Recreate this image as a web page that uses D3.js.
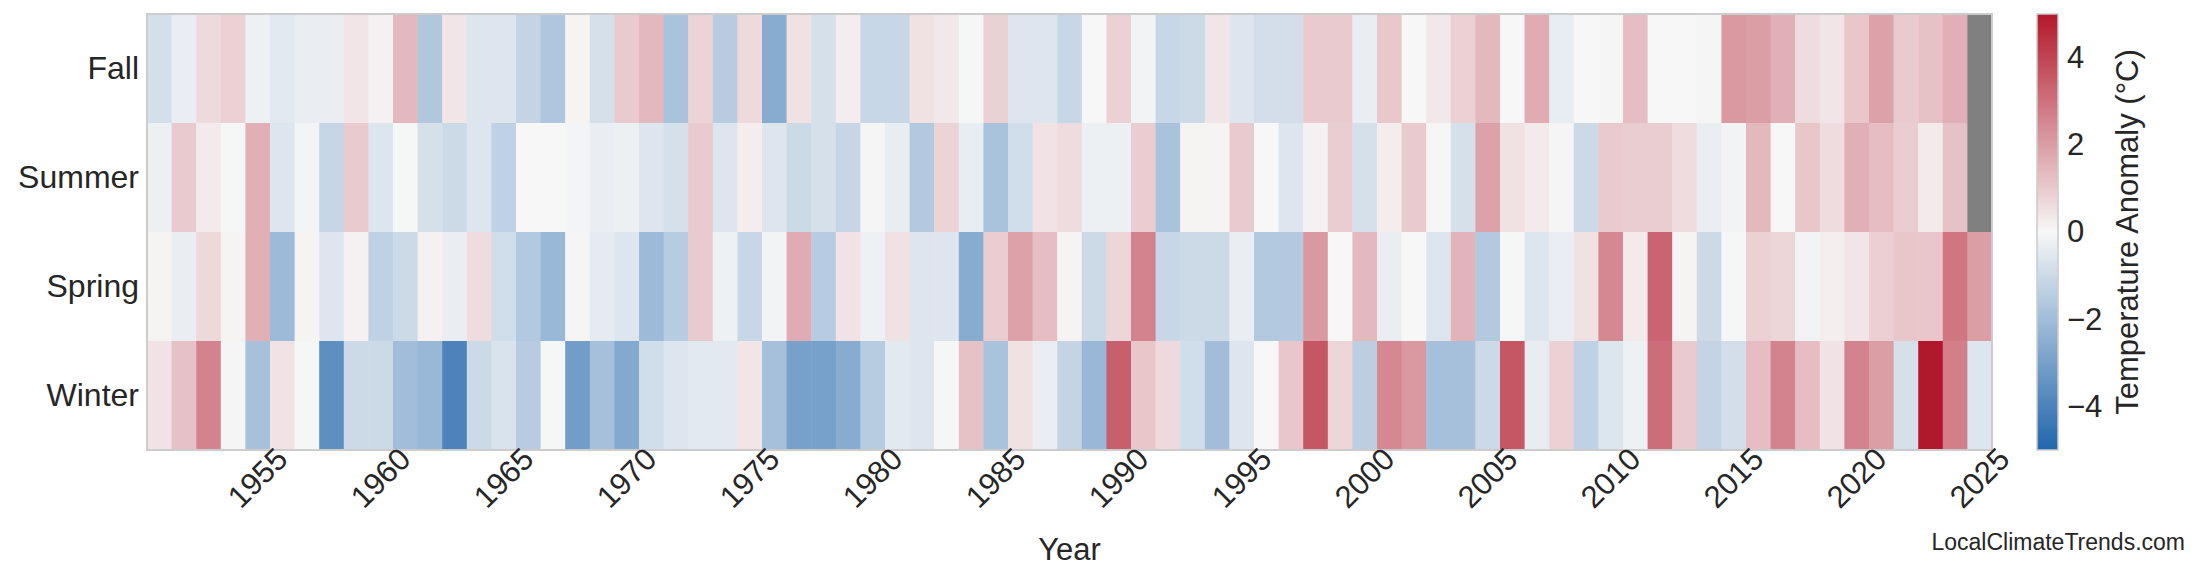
<!DOCTYPE html>
<html><head><meta charset="utf-8">
<script src="https://cdn.jsdelivr.net/npm/d3@7"></script>
<style>body{margin:0;background:#fff}text{font-family:"Liberation Sans",Arial,sans-serif;fill:#262626}</style>
</head><body><svg id="c" width="2200" height="585"></svg>
<script>
const years = d3.range(1951, 2026);
const seasons = ["Fall","Summer","Spring","Winter"];
const fall = [-0.84,-0.3,0.66,0.86,-0.2,-0.5,-0.3,-0.3,0.4,0.15,1.4,-1.65,0.4,-0.6,-0.6,-1.2,-1.7,0.1,-0.8,
1.0,1.4,-1.8,0.8,-1.5,0.66,-2.6,0.5,-0.8,0.25,-1.1,-1.1,0.5,0.35,-0.05,0.85,-0.6,-0.6,-1.1,
0,0.85,-0.15,-1.1,-1.0,0.4,-0.6,-0.85,-0.85,1.0,1.0,-0.3,1.05,0,0.35,0.85,1.4,0,1.7,
-0.35,0,0.05,1.3,0,0,0.05,2.1,2.0,1.6,0.6,0.4,1.1,1.9,1.0,1.2,1.6,null];
const summer = [-0.25,1.0,0.3,-0.05,1.6,-0.6,-0.1,-1.15,1.0,-0.6,-0.05,-0.8,-1.0,-0.6,-1.3,0,0,-0.1,-0.3,
-0.25,-0.6,-0.8,1.0,-0.6,0.25,-0.6,-1.0,-0.8,-1.15,0.05,-0.35,-1.6,0.8,-0.35,-1.8,-0.9,0.45,0.6,
-0.25,-0.25,0.95,-1.8,0.1,0.1,1.0,0,-0.6,0.15,0.95,-0.8,0.25,1.0,-0.02,-0.8,1.9,0.5,0.3,
0.05,-1.0,1.0,0.95,0.95,0.6,-0.3,-0.15,1.4,0,1.1,0.6,1.6,1.3,0.95,0.3,1.2,null];
const spring = [0.1,-0.3,0.7,0.1,1.6,-2.1,0.1,-0.6,0.15,-1.3,-1.0,0.15,-0.3,0.6,-0.9,-1.6,-2.2,0.05,-0.4,
-0.6,-2.1,-1.5,1.0,-0.2,-1.1,-0.15,1.7,-1.5,0.45,-0.2,0.5,-0.6,-0.6,-2.6,0.95,1.9,1.3,0.1,
-1.0,0.75,2.6,-1.1,-1.0,-1.0,-0.3,-1.6,-1.6,2.1,0,1.4,-0.3,0,-0.6,1.5,-1.6,-0.05,-0.6,
-0.3,0.5,2.5,0.3,3.3,0.1,-1.0,-0.05,0.85,0.75,-0.15,0.2,0.4,0.9,1.1,1.1,2.9,2.0];
const winter = [0.45,1.2,2.6,0.05,-1.85,0.45,-0.05,-3.6,-1.0,-1.0,-2.0,-2.2,-4.0,-1.0,-0.7,-1.5,-0.05,-3.1,-1.9,
-2.7,-0.9,-0.6,-0.5,-0.5,0.4,-1.9,-3.0,-3.0,-2.6,-1.5,-0.5,-0.6,-0.05,1.2,-1.8,0.5,-0.3,-1.2,
-2.2,3.4,1.1,0.66,-0.9,-2.0,-0.6,0,1.1,3.6,0.75,-1.4,2.5,2.1,-1.9,-1.9,-1.0,3.6,-0.35,
0.85,-1.3,-0.6,-0.2,3.1,1.0,-1.2,-0.85,1.3,2.6,1.3,0.45,2.6,2.0,-0.8,5.0,2.7,-0.6];
const xTicks = [1955,1960,1965,1970,1975,1980,1985,1990,1995,2000,2005,2010,2015,2020,2025];
const cbTicks = [-4,-2,0,2,4];

const series = {Fall:fall, Summer:summer, Spring:spring, Winter:winter};
const svg = d3.select("#c");
const L=147,R=1992,T=14,B=450;
const x = d3.scaleBand().domain(years).range([L,R]);
const y = d3.scaleBand().domain(seasons).range([T,B]);
const color = d3.scaleLinear().domain([-5,0,5]).range(["#2166ac","#f7f7f7","#b2182b"]).clamp(true);

const cells=[];
seasons.forEach(s=>years.forEach((yr,i)=>cells.push({s,yr,v:series[s][i]})));
svg.append("g").selectAll("rect").data(cells).join("rect")
 .attr("x",d=>x(d.yr)).attr("y",d=>y(d.s)).attr("width",x.bandwidth()+0.5).attr("height",y.bandwidth()+0.5)
 .attr("fill",d=>d.v==null?"#808080":color(d.v));
svg.append("rect").attr("x",L).attr("y",T).attr("width",R-L).attr("height",B-T)
 .attr("fill","none").attr("stroke","#cccccc").attr("stroke-width",2);

const FS="31px";
const ya = svg.append("g").attr("transform",`translate(${L},0)`).call(d3.axisLeft(y).tickSize(0).tickPadding(8));
ya.select(".domain").remove();
ya.selectAll("text").style("font-size","32px").style("font-family","Liberation Sans, Arial").attr("fill","#262626");

const xa = svg.append("g").attr("transform",`translate(0,${B})`).call(d3.axisBottom(x).tickValues(xTicks).tickSize(0).tickPadding(0));
xa.select(".domain").remove();
xa.selectAll("text").style("font-size",FS).style("font-family","Liberation Sans, Arial").attr("fill","#262626")
 .attr("text-anchor","middle").attr("y",0).attr("dy",null)
 .attr("transform","translate(0,28) rotate(-45)").attr("dominant-baseline","central");

svg.append("text").attr("x",(L+R)/2).attr("y",560).attr("text-anchor","middle").style("font-size","31px").text("Year");

// colorbar
const defs=svg.append("defs");
const g=defs.append("linearGradient").attr("id","cb").attr("x1",0).attr("x2",0).attr("y1",1).attr("y2",0);
d3.range(0,1.0001,0.1).forEach(t=>g.append("stop").attr("offset",t).attr("stop-color",color(-5+10*t)));
const cy = d3.scaleLinear().domain([-5,5]).range([B,T]);
svg.append("rect").attr("x",2037).attr("y",T).attr("width",21).attr("height",B-T).attr("fill","url(#cb)")
 .attr("stroke","#cccccc").attr("stroke-width",1.5);
const ca=svg.append("g").attr("transform","translate(2058,0)").call(d3.axisRight(cy).tickValues(cbTicks).tickSize(0).tickPadding(9).tickFormat(d=>d<0?"\u2212"+Math.abs(d):d));
ca.select(".domain").remove();
ca.selectAll("text").style("font-size",FS).style("font-family","Liberation Sans, Arial").attr("fill","#262626");
svg.append("text").attr("transform",`translate(2138,${(T+B)/2}) rotate(-90)`).attr("text-anchor","middle")
 .style("font-size","31px").text("Temperature Anomaly (°C)");
svg.append("text").attr("x",2185).attr("y",550).attr("text-anchor","end").style("font-size","23px").text("LocalClimateTrends.com");
</script></body></html>
